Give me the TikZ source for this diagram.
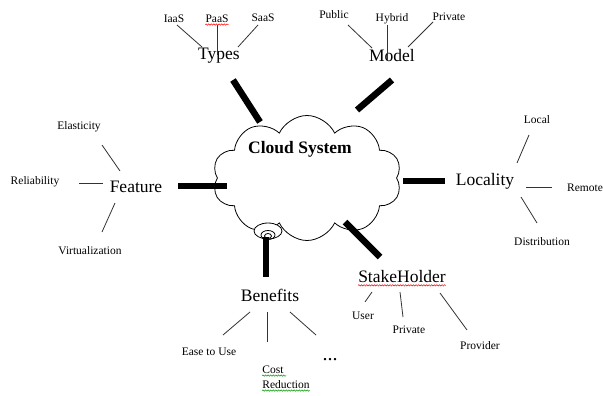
\documentclass[tikz,border=0pt]{standalone}
\usepackage{fontspec}
\setmainfont{Liberation Serif}
\usetikzlibrary{shapes.symbols,decorations.pathmorphing}
\tikzset{
  cat/.style={inner sep=0pt,font=\fontsize{17.5}{20}\selectfont},
  leaf/.style={inner sep=0pt,font=\fontsize{11.5}{15}\selectfont},
  spoke/.style={line width=6.5pt},
  twig/.style={line width=0.8pt,black!80},
  squig/.style={line width=0.5pt,decorate,decoration={snake,amplitude=0.7pt,segment length=2.6pt}},
  puff/.style={cloud,cloud puffs=10,cloud puff arc=130,aspect=1.5,draw,line width=0.8pt,inner sep=0pt,minimum width=189pt,minimum height=125pt}
}
\begin{document}
\begin{tikzpicture}[x=1pt,y=-1pt]
\useasboundingbox[fill=white] (0,0) rectangle (603,396);
% the cloud in the middle
\node[puff] (cloud) at (307,178) {};
\draw[line width=0.8pt,fill=white] (268,231) ellipse (14pt and 8pt);
\draw[line width=0.8pt] (268,235) ellipse (7pt and 4.5pt);
\draw[line width=0.8pt] (268,236) ellipse (3.5pt and 2.5pt);
\node[cat,font=\bfseries\fontsize{17.5}{20}\selectfont] (title) at (300,149) {Cloud System};
% categories
\node[cat] (types) at (219,56) {Types};
\node[cat] (model) at (392,56) {Model};
\node[cat] (feature) at (136,187) {Feature};
\node[cat] (locality) at (485,181) {Locality};
\node[cat] (stake) at (402,277) {StakeHolder};
\node[cat] (benefits) at (270,295) {Benefits};
% leaves
\node[leaf] (iaas) at (174,19) {IaaS};
\node[leaf] (paas) at (217,19) {PaaS};
\node[leaf] (saas) at (263,18) {SaaS};
\node[leaf] (public) at (334,15) {Public};
\node[leaf] (hybrid) at (392,19) {Hybrid};
\node[leaf] (private) at (449,17) {Private};
\node[leaf] (elasticity) at (79,127) {Elasticity};
\node[leaf] (reliability) at (35,182) {Reliability};
\node[leaf] (virtual) at (90,251) {Virtualization};
\node[leaf] (local) at (537,120) {Local};
\node[leaf] (remote) at (585,188) {Remote};
\node[leaf] (distrib) at (542,242) {Distribution};
\node[leaf] (user) at (363,316) {User};
\node[leaf] (owner) at (409,330) {Private};
\node[leaf] (provider) at (480,346) {Provider};
\node[leaf] (ease) at (209,352) {Ease to Use};
\node[leaf,align=left] (cost) at (286,377) {Cost\\Reduction};
\node[leaf,font=\fontsize{20}{24}\selectfont] (more) at (330,360) {...};
% thick spokes out of the cloud
\draw[spoke] ([shift={(-47,-56)}]cloud.center) -- ([shift={(14,24)}]types.center);
\draw[spoke] ([shift={(50,-68)}]cloud.center) -- ([shift={(0,24)}]model.center);
\draw[spoke] ([shift={(-80,8)}]cloud.center) -- ([shift={(42,-1)}]feature.center);
\draw[spoke] ([shift={(96,3)}]cloud.center) -- ([shift={(-40,0)}]locality.center);
\draw[spoke] ([shift={(38,44)}]cloud.center) -- ([shift={(-22,-20)}]stake.center);
\draw[spoke] ([shift={(-41,59)}]cloud.center) -- ([shift={(-4,-18)}]benefits.center);
% thin twigs
\draw[twig] ([shift={(3,6)}]iaas.center) -- ([shift={(-17,-9)}]types.center);
\draw[twig] ([shift={(0,6)}]paas.center) -- ([shift={(-2,-1)}]types.center);
\draw[twig] ([shift={(-5,7)}]saas.center) -- ([shift={(19,-9)}]types.center);
\draw[twig] ([shift={(14,10)}]public.center) -- ([shift={(-20,-8)}]model.center);
\draw[twig] ([shift={(-5,6)}]hybrid.center) -- ([shift={(-5,4)}]model.center);
\draw[twig] ([shift={(-16,5)}]private.center) -- ([shift={(16,-9)}]model.center);
\draw[twig] ([shift={(23,18)}]elasticity.center) -- ([shift={(-16,-16)}]feature.center);
\draw[twig] ([shift={(44,1)}]reliability.center) -- ([shift={(-33,-4)}]feature.center);
\draw[twig] ([shift={(12,-19)}]virtual.center) -- ([shift={(-21,16)}]feature.center);
\draw[twig] ([shift={(-8,15)}]local.center) -- ([shift={(32,-18)}]locality.center);
\draw[twig] ([shift={(-33,-1)}]remote.center) -- ([shift={(41,6)}]locality.center);
\draw[twig] ([shift={(-5,-19)}]distrib.center) -- ([shift={(36,16)}]locality.center);
\draw[twig] ([shift={(2,-14)}]user.center) -- ([shift={(-30,15)}]stake.center);
\draw[twig] ([shift={(-6,-13)}]owner.center) -- ([shift={(-2,15)}]stake.center);
\draw[twig] ([shift={(-13,-16)}]provider.center) -- ([shift={(38,16)}]stake.center);
\draw[twig] ([shift={(14,-17)}]ease.center) -- ([shift={(-20,17)}]benefits.center);
\draw[twig] ([shift={(-19,-35)}]cost.center) -- ([shift={(-3,17)}]benefits.center);
\draw[twig] ([shift={(-14,-25)}]more.center) -- ([shift={(20,17)}]benefits.center);
% spell-check squiggles
\draw[squig,red] ([yshift=-1.5pt]paas.south west) -- ([yshift=-1.5pt]paas.south east);
\draw[squig,red] ([yshift=-2pt]stake.south west) -- ([yshift=-2pt]stake.south east);
\draw[squig,green!60!black] ([yshift=13pt]cost.south west) -- +(24,0);
\draw[squig,green!60!black] ([yshift=-2pt]cost.south west) -- ([yshift=-2pt]cost.south east);
\end{tikzpicture}
\end{document}
